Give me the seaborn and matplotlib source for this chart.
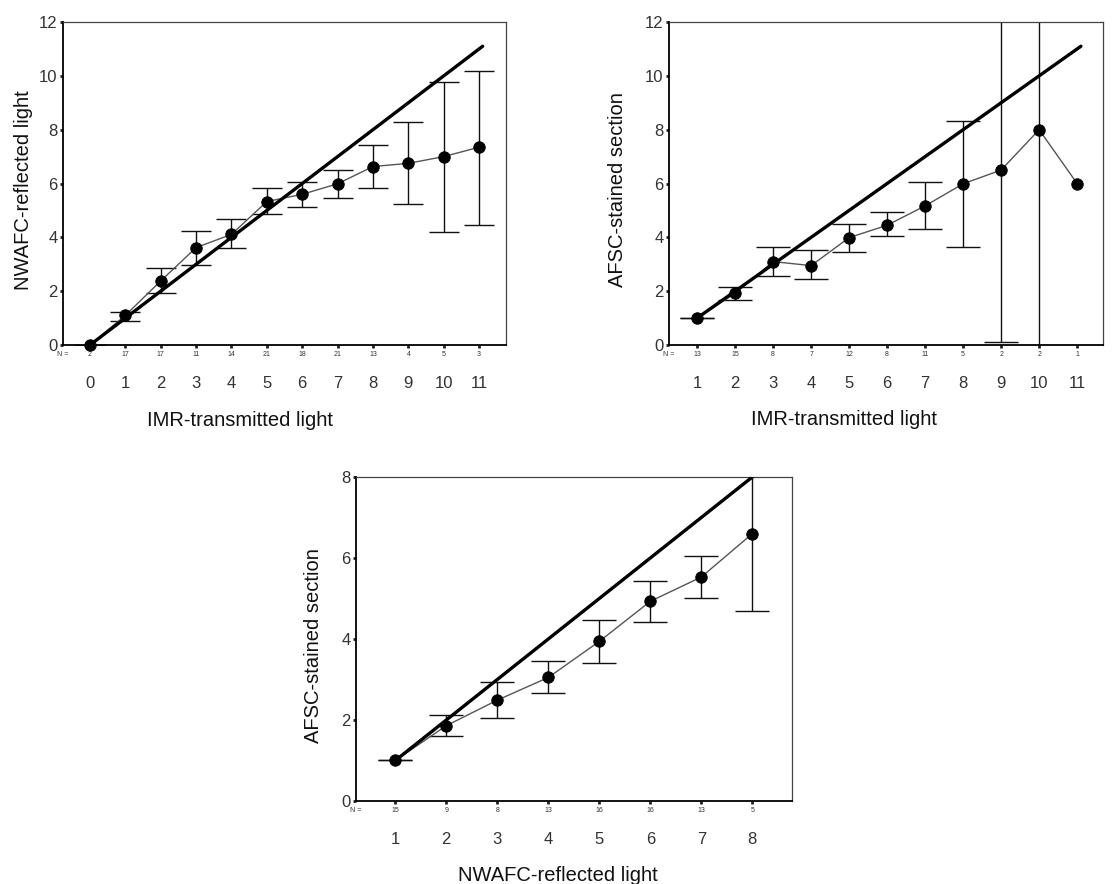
import matplotlib
matplotlib.use('Agg')
import matplotlib.pyplot as plt
import matplotlib.transforms as mtransforms
import numpy as np
import seaborn as sns

# Panel A: IMR-transmitted light vs NWAFC-reflected light
imr_a = [0, 1, 2, 3, 4, 5, 6, 7, 8, 9, 10, 11]
nwafc_mean = [0.0, 1.1, 2.38, 3.62, 4.11, 5.33, 5.6, 5.99, 6.63, 6.75, 7.0, 7.35]
nwafc_low = [0.0, 0.9, 1.92, 2.97, 3.59, 4.85, 5.14, 5.48, 5.82, 5.23, 4.21, 4.46]
nwafc_high = [0.0, 1.24, 2.85, 4.25, 4.67, 5.82, 6.07, 6.49, 7.43, 8.29, 9.77, 10.19]
n_a = [2, 17, 17, 11, 14, 21, 18, 21, 13, 4, 5, 3]
ref_a = [0, 11.1]

# Panel B: IMR-transmitted light vs AFSC-stained section
imr_b = [1, 2, 3, 4, 5, 6, 7, 8, 9, 10, 11]
afsc_mean_b = [1.0, 1.92, 3.1, 2.95, 3.99, 4.45, 5.17, 5.99, 6.5, 8.0, 6.0]
afsc_low_b = [1.0, 1.67, 2.57, 2.44, 3.45, 4.04, 4.3, 3.64, 0.12, -17.0, np.nan]
afsc_high_b = [1.0, 2.17, 3.64, 3.53, 4.51, 4.93, 6.06, 8.33, 12.88, 33.0, np.nan]
n_b = [13, 15, 8, 7, 12, 8, 11, 5, 2, 2, 1]
ref_b = [1, 11.1]

# Panel C: NWAFC-reflected light vs AFSC-stained section
nwafc_c = [1, 2, 3, 4, 5, 6, 7, 8]
afsc_mean_c = [1.0, 1.86, 2.49, 3.05, 3.94, 4.93, 5.53, 6.6]
afsc_low_c = [1.0, 1.61, 2.04, 2.66, 3.4, 4.43, 5.01, 4.7]
afsc_high_c = [1.0, 2.12, 2.95, 3.46, 4.47, 5.43, 6.06, 8.5]
n_c = [15, 9, 8, 13, 16, 16, 13, 5]
ref_c = [1, 8]

sns.set_theme(style='white')
plt.rcParams['font.family'] = ['Liberation Sans', 'DejaVu Sans']

fig = plt.figure(figsize=(11.2, 8.84), dpi=100)


def draw_panel(rect, x, mean, low, high, n, ref, xlim, ylim, yticks,
               xlabel, ylabel, xlab_pos, ylab_pos, capsize):
    ax = fig.add_axes(rect)
    x = np.array(x)
    mean = np.array(mean)
    low = np.array(low)
    high = np.array(high)
    yerr = np.vstack([mean - low, high - mean])

    ax.errorbar(x, mean, yerr=yerr, fmt='none', ecolor='#111111',
                elinewidth=1.0, capsize=capsize, capthick=1.0, zorder=2)
    sns.lineplot(x=x, y=mean, color='#555555', linewidth=1.0, ax=ax,
                 zorder=3, legend=False)
    sns.lineplot(x=ref, y=ref, color='black', linewidth=2.4, ax=ax,
                 zorder=4, legend=False)
    sns.scatterplot(x=x, y=mean, color='black', s=68, edgecolor='black',
                    ax=ax, zorder=5, legend=False, clip_on=False)

    ax.set_xlim(*xlim)
    ax.set_ylim(*ylim)
    ax.set_yticks(yticks)
    ax.set_xticks(x)
    ax.set_xticklabels([str(v) for v in x])
    ax.tick_params(axis='x', length=2, width=2, pad=20, labelsize=12,
                   labelcolor='#333333', colors='#222222', direction='out')
    ax.tick_params(axis='y', length=2, width=2, pad=2, labelsize=12,
                   labelcolor='#333333', colors='#222222', direction='out')
    ax.tick_params(axis='x', labelcolor='#333333')
    ax.tick_params(bottom=True, left=True)

    for side in ['left', 'bottom']:
        ax.spines[side].set_color('black')
        ax.spines[side].set_linewidth(1.3)
    for side in ['top', 'right']:
        ax.spines[side].set_color('#444444')
        ax.spines[side].set_linewidth(0.9)

    # N = row under the axis
    trans = mtransforms.blended_transform_factory(ax.transData, ax.transAxes)
    for xi, ni in zip(x, n):
        ax.text(xi, -0.03, str(ni), transform=trans, ha='center', va='center',
                fontsize=5, color='#333333')
    ax.text(0.0, -0.03, 'N =', transform=ax.transAxes, ha='center',
            va='center', fontsize=5, color='#333333')

    ax.set_xlabel(xlabel, fontsize=14.5, color='#111111')
    ax.set_ylabel(ylabel, fontsize=14.5, color='#111111')
    ax.xaxis.set_label_coords(*xlab_pos)
    ax.yaxis.set_label_coords(*ylab_pos)
    return ax


draw_panel([0.0563, 0.6097, 0.3955, 0.3654], imr_a, nwafc_mean, nwafc_low,
           nwafc_high, n_a, ref_a, (-0.76, 11.76), (0, 12), range(0, 13, 2),
           'IMR-transmitted light', 'NWAFC-reflected light',
           (0.40, -0.205), (-0.068, 0.48), 11)

draw_panel([0.5973, 0.6097, 0.3875, 0.3654], imr_b, afsc_mean_b, afsc_low_b,
           afsc_high_b, n_b, ref_b, (0.26, 11.68), (0, 12), range(0, 13, 2),
           'IMR-transmitted light', 'AFSC-stained section',
           (0.403, -0.2), (-0.097, 0.48), 12)

draw_panel([0.3179, 0.0939, 0.3893, 0.3665], nwafc_c, afsc_mean_c, afsc_low_c,
           afsc_high_c, n_c, ref_c, (0.23, 8.78), (0, 8), range(0, 9, 2),
           'NWAFC-reflected light', 'AFSC-stained section',
           (0.463, -0.2), (-0.076, 0.48), 12)

fig.savefig('out.png', dpi=100)
